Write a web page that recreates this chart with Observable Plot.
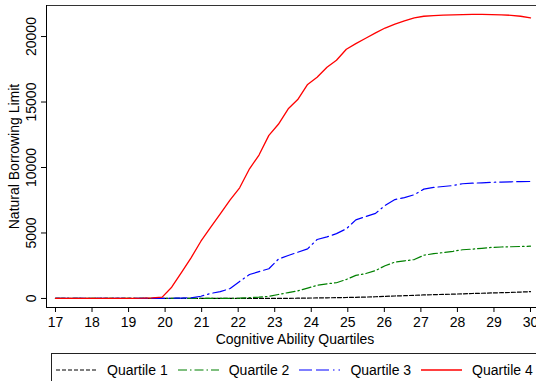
<!DOCTYPE html>
<html>
<head>
<meta charset="utf-8">
<script src="https://cdn.jsdelivr.net/npm/d3@7"></script>
<script src="https://cdn.jsdelivr.net/npm/@observablehq/plot@0.6"></script>
<style>
  html, body { margin: 0; padding: 0; background: #fff; overflow: hidden; }
  body { width: 536px; height: 381px; font-family: "Liberation Sans", Arial, Helvetica, sans-serif; }
  #legend {
    box-sizing: border-box;
    margin: 1px 0 0 51px;
    width: 500px;
    height: 34px;
    border: 1px solid #222;
    display: flex;
    align-items: center;
    padding-left: 4px;
    font-size: 14px;
    color: #000;
  }
  .item { display: flex; align-items: center; margin-right: 10px; white-space: nowrap; }
  .item svg { display: block; margin-right: 10px; }
</style>
</head>
<body>
<div id="chart"></div>
<div id="legend"></div>
<script>
// Age grid (50 evenly spaced ages between 17 and 30)
const age = [
  17.00, 17.27, 17.53, 17.80, 18.06, 18.33, 18.59, 18.86, 19.12, 19.39,
  19.65, 19.92, 20.18, 20.45, 20.71, 20.98, 21.24, 21.51, 21.78, 22.04,
  22.31, 22.57, 22.84, 23.10, 23.37, 23.63, 23.90, 24.16, 24.43, 24.69,
  24.96, 25.22, 25.49, 25.76, 26.02, 26.29, 26.55, 26.82, 27.08, 27.35,
  27.61, 27.88, 28.14, 28.41, 28.67, 28.94, 29.20, 29.47, 29.73, 30.00
];

// Natural borrowing limit by cognitive ability quartile
const quartile1 = [
  0, 0, 0, 0, 0, 0, 0, 0, 0, 0,
  0, 0, 0, 0, 0, 0, 0, 0, 0, 0,
  0, 0, 0, 5, 10, 20, 30, 40, 50, 60,
  75, 90, 110, 130, 160, 190, 210, 240, 270, 290,
  310, 330, 350, 380, 400, 420, 440, 460, 490, 520
];
const quartile2 = [
  0, 0, 0, 0, 0, 0, 0, 0, 0, 0,
  0, 0, 0, 0, 0, 0, 0, 0, 0, 20,
  60, 100, 160, 300, 450, 580, 790, 1000, 1120, 1200,
  1450, 1760, 1900, 2130, 2500, 2780, 2870, 2970, 3300, 3420,
  3500, 3600, 3720, 3770, 3830, 3900, 3930, 3950, 3970, 3990
];
const quartile3 = [
  0, 0, 0, 0, 0, 0, 0, 0, 0, 0,
  0, 10, 20, 30, 50, 170, 380, 520, 760, 1300,
  1830, 2050, 2270, 3000, 3280, 3530, 3790, 4500, 4700, 4950,
  5320, 6000, 6250, 6500, 7100, 7550, 7700, 7920, 8350, 8480,
  8550, 8620, 8760, 8800, 8830, 8870, 8890, 8910, 8920, 8930
];
const quartile4 = [
  0, 0, 0, 0, 0, 0, 0, 0, 10, 20,
  50, 100, 860, 2000, 3100, 4370, 5400, 6460, 7530, 8450,
  9900, 10950, 12450, 13300, 14480, 15190, 16340, 16890, 17660, 18190,
  19030, 19460, 19870, 20280, 20650, 20950, 21200, 21430, 21550, 21600,
  21630, 21660, 21680, 21690, 21690, 21680, 21660, 21620, 21550, 21430
];

const seriesNames = ["Quartile 1", "Quartile 2", "Quartile 3", "Quartile 4"];
const xTicks = [17, 18, 19, 20, 21, 22, 23, 24, 25, 26, 27, 28, 29, 30];
const yTicks = [0, 5000, 10000, 15000, 20000];

// Line styling for each quartile
const styles = [
  { color: "#000000", dash: "4,2", width: 1.2 },
  { color: "#008000", dash: "9,3,1.5,3", width: 1.2 },
  { color: "#0000ff", dash: "13,4,13,4,1.5,4", width: 1.2 },
  { color: "#ff0000", dash: null, width: 1.3 }
];
const values = [quartile1, quartile2, quartile3, quartile4];

// Plot region bounds in data units
const xMin = 16.754, xMax = 30.356;
const yMin = -690, yMax = 22370;

const lines = values.map((v, s) => {
  const rows = age.map((a, i) => ({ age: a, value: v[i] }));
  return Plot.line(rows, {
    x: "age", y: "value",
    stroke: styles[s].color,
    strokeWidth: styles[s].width,
    strokeDasharray: styles[s].dash || undefined
  });
});

const chart = Plot.plot({
  width: 536,
  height: 352,
  marginTop: 5,
  marginBottom: 45,
  marginLeft: 46,
  marginRight: -7,
  style: { fontFamily: "Liberation Sans, Arial, Helvetica, sans-serif", fontSize: "14px", background: "white", color: "#000" },
  x: { domain: [xMin, xMax] },
  y: { domain: [yMin, yMax] },
  marks: [
    Plot.axisX({
      ticks: xTicks, tickSize: 5, tickPadding: 5, tickFormat: d => String(d),
      label: "Cognitive Ability Quartiles", labelAnchor: "center", labelOffset: 36, labelArrow: "none"
    }),
    Plot.axisY({
      ticks: yTicks, tickSize: 5, tickPadding: 6, tickRotate: -90, tickFormat: d3.format("d"),
      label: "Natural Borrowing Limit", labelAnchor: "center", labelOffset: 37, labelArrow: "none"
    }),
    Plot.ruleY([yMax], { stroke: "#333", strokeWidth: 1 }),
    Plot.ruleY([yMin], { stroke: "#000", strokeWidth: 1 }),
    Plot.ruleX([xMin], { stroke: "#000", strokeWidth: 1 }),
    ...lines
  ]
});
document.getElementById("chart").appendChild(chart);

// Legend: line sample plus series name
const legend = d3.select("#legend");
seriesNames.forEach((name, s) => {
  const item = legend.append("div").attr("class", "item");
  const sw = item.append("svg").attr("width", 41).attr("height", 10);
  sw.append("line")
    .attr("x1", 0).attr("x2", 41).attr("y1", 5).attr("y2", 5)
    .attr("stroke", styles[s].color)
    .attr("stroke-width", styles[s].width)
    .attr("stroke-dasharray", styles[s].dash);
  item.append("span").text(name);
});
</script>
</body>
</html>
